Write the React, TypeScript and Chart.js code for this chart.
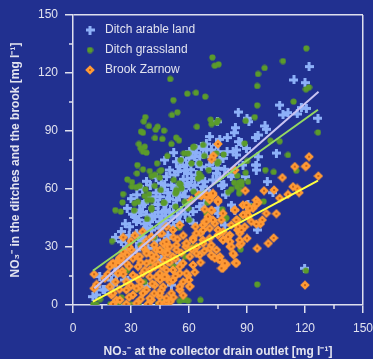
import React, { useEffect, useRef } from 'react';
import { Chart, registerables } from 'chart.js';

Chart.register(...registerables);

const BG = '#213090';
const TEXT = '#e2e3ef';
const AXIS = '#dfe0ee';
const FONT = "'Liberation Sans', Arial, Helvetica, sans-serif";

const axisMin = 0;
const axisMax = 150;
const majorStep = 30;
const minorTicks = [15, 45, 75, 105, 135];

const seriesLabels = ['Ditch arable land', 'Ditch grassland', 'Brook Zarnow'];
const xTitle = 'NO₃⁻ at the collector drain outlet [mg l⁻¹]';
const yTitle = 'NO₃⁻ in the ditches and the brook [mg l⁻¹]';

const arableLand: number[][] = [
  [122.1, 123.3], [114.3, 116.4], [120, 115], [118.1, 102.1], [120.7, 101.7], [116, 98.8], [106.9, 103.4], [108.6, 98.3], [111.2, 99.5], [126.7, 96.6],
  [85.5, 99.8], [90, 96.6], [91, 94.8], [84, 91.7], [83.3, 89.1], [99.3, 92.6], [100, 90.9], [94.3, 86.6], [95.7, 87.9], [74.7, 94.8],
  [70.7, 87.1], [75.9, 85.7], [79.8, 86.6], [79.7, 79.3], [84.5, 80.2], [85.7, 84.5], [87.1, 84], [89.7, 81], [95.7, 76.7], [94.5, 72.4],
  [94.8, 69.8], [105.2, 78.6], [100.5, 63.8], [103.4, 58.1], [95.3, 38.8], [119.8, 19], [75, 79.3], [69, 80.5], [63.8, 78.8], [65.5, 76.7],
  [71.6, 76.7], [74.1, 73.3], [78.4, 70.2], [81.9, 66.4], [76.9, 61.7], [90.5, 52.2],
  [52.1, 78.8], [61.3, 78.8], [63.5, 81.1], [71.6, 80.2], [74.2, 82.8], [82.8, 79.3], [84.5, 77.6], [77.6, 75.9], [47.4, 75], [53.5, 74.1],
  [58.7, 72.4], [66.4, 71.5], [70.7, 72.4], [75, 70.7], [50, 69.8], [54.3, 69], [48.3, 66.4], [52.6, 67.3], [61.3, 65.5], [63.8, 67.3],
  [68.1, 63.8], [72.4, 64.7], [47.4, 62.1], [56.9, 61.2], [62.1, 59.5], [66.4, 58.6], [70.7, 57.8], [87.9, 72.4], [89.3, 66.4], [82.5, 68.1],
  [78, 62.1], [75.9, 65.9], [83.7, 49.1], [89.7, 51.7], [47.4, 48.3], [50.9, 45.7], [53.5, 54.3], [58.7, 52.6], [62.1, 48.3], [65.5, 50.9],
  [60.4, 44], [55.2, 43.1],
  [94.9, 72.4], [79, 56.9], [81.9, 51.7], [75, 50], [67.3, 77.6], [75.9, 75], [70.7, 70.7], [74.2, 68.1], [67.3, 61.2], [75, 47.4], [68.1, 52.6],
  [45.7, 63], [46.6, 59.5], [42.3, 54.3], [48, 49.1], [37.1, 52.6], [34.5, 49.1], [38, 46.6], [42.3, 45.7], [31.9, 45.7], [32.8, 43.1],
  [44.9, 43.1], [39.7, 43.1], [48.6, 54],
  [30, 55], [33, 57], [36, 52], [40, 56], [43, 58], [28, 50], [31, 47], [35, 48], [27, 42], [25, 38], [22, 35], [29, 36], [38, 40],
  [41, 50], [44, 52], [46, 46], [36, 60], [40, 62], [38, 64], [43, 66], [45, 56], [49, 58], [51, 62], [55, 57], [57, 65], [59, 68],
  [56, 75], [60, 76], [64, 73], [58, 56], [60, 62],
  [60.3, 79.3], [62.9, 76.7], [66.4, 81.9], [69, 83.3], [56.6, 75], [57.8, 69.5], [55.2, 71.6],
  [29.3, 40.5], [32.8, 37.1], [36.2, 35.3], [40.6, 38.8], [44.9, 39.7], [34.5, 31.9], [27.6, 30.2], [38.8, 29.3], [24.2, 23.3], [25, 32.7],
  [43.1, 33.6], [49.1, 34.5], [21.6, 19.8], [22.5, 15.5], [28.4, 12.9], [20.7, 10.3], [16.4, 7.8], [38, 9.5],
  [46.6, 42.3], [49.1, 36.2], [62.1, 42.3], [78.5, 41.4], [55.2, 21.6], [50.9, 10.3], [45.7, 23.3],
  [32.8, 28.5], [19.9, 12.9], [12.1, 5.2], [10.3, 4.3], [15.5, 7.8], [26.7, 12.9], [35.4, 33.6], [12.1, 9.5], [13.8, 14.7],
  [34, 44], [37, 42], [41, 46], [44, 48], [47, 52], [50, 55], [52, 58], [54, 61], [57, 59], [59, 63], [61, 70], [63, 62], [65, 65],
  [50, 48], [52, 51], [56, 49], [58, 47], [54, 46], [48, 44], [46, 40], [52, 41],
];

const grassland: number[][] = [
  [120.7, 132.8], [72.1, 128.1], [73.3, 123.8], [75.3, 124.5], [108.6, 126.2], [99.1, 122.6], [95.7, 119.5], [95.3, 113.3], [120.5, 111.6], [122.1, 112.6],
  [50.3, 116.9], [63.6, 109.8], [59.1, 109.3], [68.4, 107.8], [51.9, 106], [114.1, 105.2], [95.3, 103.3], [54, 99.7], [51.2, 98.3], [37.4, 97.2],
  [94, 97.2], [36.6, 95], [39.3, 92.6], [43.8, 92.2], [42.8, 90.7], [71.2, 95.9], [75, 95.5], [74.3, 94.3], [71.7, 93.6], [64.1, 92.2],
  [89.3, 95.3], [35.2, 89.7], [36.2, 89.1], [47.1, 90.2], [42.4, 86.4], [46.2, 85.9], [53.4, 86.6], [54.8, 85.2],
  [34.1, 83.3], [35, 81.1], [37.1, 81.9], [36.2, 79.3], [38, 78.8], [48.8, 77.1], [43.5, 73.3], [33.3, 72.4], [36.2, 70.2], [39.7, 69.3],
  [42.3, 67.4], [40.7, 66.7], [44.9, 69.3], [44.9, 65.9], [33.1, 68.1], [28.1, 65], [30.5, 63.6], [30.5, 61.2], [32.8, 61], [34.5, 61.6],
  [42.3, 61.6], [37.5, 59.9], [45.4, 59.5], [25.9, 57.4], [39.3, 57.4], [37.1, 56.4], [40.7, 54.3], [38.5, 54.3], [25.6, 53.1], [33.6, 53.4],
  [31.9, 52.6], [47.1, 52.9], [40.6, 50.3], [40.6, 49.5], [21.9, 49.1], [24.7, 48.3], [31.6, 49], [38.3, 44.5],
  [59.5, 78.4], [62.6, 81.9], [65.5, 73.3], [67.9, 77.1], [70.2, 69.8], [74.1, 78.4], [77.9, 77.9], [74.7, 73.3], [82.8, 69.8], [85, 66.9],
  [86, 63.4], [87.2, 62.1], [86.2, 59.5], [89.3, 68.4], [90.5, 63.8], [88.8, 83.6], [99.5, 69.8], [103.8, 68.8], [102.1, 85], [106.9, 84.7],
  [111.2, 77.6], [115.5, 69.5], [98.6, 53.6], [92.6, 51.2], [120.5, 17.8], [95.3, 10.7], [126.7, 89.3], [83.4, 63.3], [84.8, 61.2], [80.3, 58.4],
  [77.2, 49.5], [79.3, 45], [86.7, 28.8], [65.9, 2.6], [55.2, 2.1], [58.1, 2.6], [59.5, 2.2], [52.1, 64.7], [53.6, 58.6], [55.7, 62.4],
  [62.4, 58.6], [65.2, 68.1], [59.5, 50], [69, 47.4], [57.8, 53.4],
  [50.9, 83.3], [62.1, 81.6], [67.3, 82.8], [57.4, 78.5], [55.7, 75], [61.3, 73.3], [75, 74.1], [90, 74.5], [45.7, 69.8], [66.4, 66.4],
  [64.7, 65.5], [54.8, 63], [87.1, 63.8], [56.1, 60.4], [53.5, 59.5], [53.1, 57.8], [81.9, 59.9], [85.9, 57.8], [46.9, 52.9], [69.5, 52.9],
  [53.1, 50.9], [78.5, 45.4], [85.9, 44],
  [20.2, 33.1], [11.2, 0.4], [56.9, 2.6],
  [10.5, 0.3], [12, 0.3], [19.3, 0.5], [23.5, 0.5], [27, 0.3], [30, 0.2], [34, 0.5], [38.5, 0.3], [44, 0.5], [46.5, 1.2],
  [14, 3], [25, 4], [33, 8], [37, 12], [45, 16], [52, 20], [58, 25], [62, 30], [48, 28], [40, 22], [28, 18], [35, 31], [42, 35], [55, 40], [60, 44],
];

const brookZarnow: number[][] = [
  [75, 83.3], [72.6, 77.2], [71.7, 75.3], [126.9, 66.7], [122.1, 76.7], [114.7, 71.6], [120.2, 71.6], [120.7, 72], [108.3, 65.9], [116, 60.3],
  [113.8, 61.2], [116.9, 58.1], [106.9, 55.3], [111.2, 57.2], [104, 59.5], [98.8, 59.1], [89.1, 59.1], [94.8, 54.3], [95.7, 53.1], [95, 52.2],
  [100, 47.4], [105.2, 47.2], [97.9, 44], [96.9, 41.9], [94.8, 41.9], [103.8, 34.7], [101, 31.9], [95.3, 29.3], [90, 34.5], [86.2, 37.1],
  [86.2, 31], [83.1, 25.9], [83.9, 21.9], [79.3, 21], [77.6, 19], [75, 24], [76, 25], [71.7, 25.3], [81.2, 30.2], [77.6, 33.6],
  [81.2, 32.8], [83.6, 49.1], [84.8, 44], [89.7, 47.4], [90.5, 45.7], [93.1, 50], [92.2, 43.1], [88.8, 40.5], [85.3, 38.8], [120, 10.3],
  [66.4, 56.4], [71, 56], [71.9, 48.8], [75, 54.3], [77.6, 47.4], [76.7, 44], [73.3, 42.2], [75, 38.8], [68.1, 49.5], [69.8, 45.7],
  [65, 56.9], [63.3, 40.5], [61.2, 54.3], [65.9, 37.1], [67.2, 33.6], [70.7, 29.3], [65.5, 25.9], [61.4, 28.8], [58.3, 30.2], [59.5, 15.3],
  [60.3, 9.8], [55.2, 7.8], [50.3, 1.7], [38.8, 0.5], [44.8, 0.9], [10.9, 15.9], [10.9, 8.6], [12.2, 10.7], [24.5, 24.1], [22.1, 21.6], [19.8, 21],
  [24.2, 24.5], [25, 22.4], [23.3, 20.7], [30.2, 28.5], [25.6, 17.6], [27.6, 12.1], [33.6, 25], [33.6, 19.8], [31, 15.5], [38, 27.6],
  [40.6, 25.9], [43.1, 28.5], [46.6, 31.9], [47.4, 26.7], [49.1, 22.4], [38, 21.6], [42.3, 19.8], [36.2, 16.4], [39.7, 14.6], [44.9, 16.4],
  [48.3, 14.6], [34.5, 9.5], [38, 7.8], [42.3, 10.3], [46.6, 9.5], [31, 5.2], [22.5, 2.6], [44.9, 4.3], [47.4, 0.9], [20.7, 0.5],
  [27.6, 0.5], [32.8, 0.9], [40.6, 2.6], [19, 9.5], [16.4, 13.8], [19.9, 5.2], [40.6, 35.3], [44.9, 37.1], [25.9, 27.6],
  [48.3, 40.5], [51.7, 38.8], [55.2, 41.4], [67.3, 41.4], [70.7, 39.7], [75, 36.2], [77.6, 33.6], [81.1, 36.2], [85.4, 38.8], [87.1, 31.9],
  [81.9, 30.2], [70.7, 34.5], [67.3, 31.9], [62.1, 34.5], [58.7, 31.9], [48.3, 30.2], [53.5, 31], [71.6, 25.9], [75.9, 23.3], [78.5, 20.7],
  [84.5, 21.9], [63.8, 26.7], [60.4, 25], [51.7, 25], [47.4, 23.3], [56.9, 21.6], [62.1, 20.7], [51.7, 18.1], [55.2, 16.4], [47.4, 14.6],
  [50, 12.1], [60.4, 9.5], [50.9, 6.1], [48.3, 1.7], [45.7, 7.8],
  [83.7, 69.8], [68.1, 56.9], [72.4, 56.9], [70.7, 54.3], [75, 53.4], [71.6, 49.1], [87.9, 51.7], [90.5, 46.6], [68.1, 43.1], [72.4, 44],
  [86.2, 33.6], [87.1, 38.8], [91.4, 50], [89.7, 51.7], [87.9, 46.6], [84.5, 44], [83.7, 49.1], [81.9, 41.4], [85.4, 40.5], [77.6, 37.9],
  [80.2, 35.3], [82.8, 26.7], [84.5, 21.6], [78.5, 21.6], [76.8, 19], [73.3, 24.2], [71.6, 31], [74.2, 28.5],
  [25, 24.2], [27.6, 21.6], [20.7, 21.6], [34.5, 25], [38, 26.7], [44.9, 28.5], [48.3, 32.7], [50, 30.2], [53.5, 28.5], [58.7, 31.9],
  [62.1, 33.6], [63.8, 37.1], [67.3, 38.8], [69, 43.1], [72.4, 57.8], [69, 56.9], [39.7, 18.1], [43.1, 14.6], [48.3, 18.1], [51.7, 12.9],
  [55.2, 19.8], [58.7, 16.4], [55.2, 9.5], [27.6, 7.8], [32.8, 8.6], [36.2, 6.1], [39.7, 3.5], [44.9, 6.1], [48.3, 3.5], [24.2, 2.6],
  [20.7, 6.1], [19, 19.8], [23.3, 16.4],
  [29, 20], [31, 24], [35, 22], [37, 18], [41, 23], [43, 25], [46, 20], [50, 22], [53, 24], [56, 27], [52, 35], [46, 37], [42, 31],
  [36, 30], [30, 33], [28, 26], [33, 14], [35, 12], [41, 11], [45, 13], [53, 15], [57, 12], [30, 10], [26, 16], [22, 12], [18, 16],
  [24, 8], [29, 4], [35, 3], [42, 6], [52, 4], [57, 5], [60, 13], [63, 17], [66, 22], [68, 28], [64, 30], [57, 36], [54, 34], [36, 38],
  [32, 36], [38, 33], [44, 21], [49, 27], [26, 35], [29, 30],
];

const arableFit: number[][] = [[11, 8.6], [127, 110.3]];
const grassFit: number[][] = [[10.3, 17.7], [126.7, 101]];
const brookFit: number[][] = [[10.3, 1.7], [126.7, 64.3]];

const COL_ARABLE = '#8db0f8';
const COL_GRASS = '#5b9b2b';
const COL_BROOK = '#ff9a35';
const COL_ARABLE_FIT = '#c9c4f2';
const COL_GRASS_FIT = '#94d862';
const COL_BROOK_FIT = '#ffff40';

function makeMarker(kind: string): HTMLCanvasElement {
  const c = document.createElement('canvas');
  if (kind === 'plus') {
    c.width = 9; c.height = 9;
    const g = c.getContext('2d')!;
    g.fillStyle = COL_ARABLE;
    g.fillRect(0, 3, 9, 3);
    g.fillRect(3, 0, 3, 9);
  } else if (kind === 'dot') {
    c.width = 7; c.height = 7;
    const g = c.getContext('2d')!;
    g.fillStyle = COL_GRASS;
    g.beginPath();
    g.arc(3.5, 3.5, 3.1, 0, Math.PI * 2);
    g.fill();
  } else {
    c.width = 10; c.height = 10;
    const g = c.getContext('2d')!;
    g.fillStyle = COL_BROOK;
    g.beginPath();
    g.moveTo(5, 0.2); g.lineTo(9.8, 5); g.lineTo(5, 9.8); g.lineTo(0.2, 5);
    g.closePath();
    g.fill();
    g.fillStyle = '#c8661a';
    g.fillRect(4, 4, 2, 2);
  }
  return c;
}

const toPts = (arr: number[][]) => arr.map(([x, y]) => ({ x, y }));

const framePlugin = {
  id: 'frameAndMinorTicks',
  afterLayout(chart: any) {
    const l = chart.legend;
    if (l) {
      const dy = chart.chartArea.top + 1 - l.top;
      l.top += dy;
      l.bottom += dy;
    }
  },
  afterDraw(chart: any) {
    const { ctx, chartArea, scales } = chart;
    const xs = scales.x;
    const ys = scales.y;
    ctx.save();
    ctx.strokeStyle = AXIS;
    ctx.lineWidth = 1.5;
    ctx.beginPath();
    minorTicks.forEach((v) => {
      const px = Math.round(xs.getPixelForValue(v));
      ctx.moveTo(px, chartArea.bottom);
      ctx.lineTo(px, chartArea.bottom + 4);
      const py = Math.round(ys.getPixelForValue(v));
      ctx.moveTo(chartArea.left, py);
      ctx.lineTo(chartArea.left - 4, py);
    });
    ctx.stroke();
    ctx.restore();
  },
};

export default function App() {
  const ref = useRef<HTMLCanvasElement | null>(null);

  useEffect(() => {
    if (!ref.current) return;
    Chart.defaults.font.family = FONT;
    const plus = makeMarker('plus');
    const dot = makeMarker('dot');
    const diamond = makeMarker('diamond');

    const edgeColor = (ctx: any) => (ctx.tick && ctx.tick.value === axisMax ? AXIS : 'rgba(0,0,0,0)');

    const chart = new Chart(ref.current, {
      type: 'scatter',
      data: {
        datasets: [
          { label: seriesLabels[0], data: toPts(arableLand), pointStyle: plus as any, pointRadius: 4.5, order: 3, backgroundColor: COL_ARABLE, borderColor: COL_ARABLE },
          { label: seriesLabels[1], data: toPts(grassland), pointStyle: dot as any, pointRadius: 3.5, order: 2, backgroundColor: COL_GRASS, borderColor: COL_GRASS },
          { label: seriesLabels[2], data: toPts(brookZarnow), pointStyle: diamond as any, pointRadius: 5, order: 1, backgroundColor: COL_BROOK, borderColor: COL_BROOK },
          { label: 'fitA', data: toPts(arableFit), showLine: true, pointRadius: 0, borderColor: COL_ARABLE_FIT, borderWidth: 2, order: 0 },
          { label: 'fitG', data: toPts(grassFit), showLine: true, pointRadius: 0, borderColor: COL_GRASS_FIT, borderWidth: 2, order: 0 },
          { label: 'fitB', data: toPts(brookFit), showLine: true, pointRadius: 0, borderColor: COL_BROOK_FIT, borderWidth: 2, order: 0 },
        ] as any,
      },
      options: {
        responsive: false,
        animation: false,
        devicePixelRatio: 1,
        events: [],
        layout: { padding: { top: 15, right: 10, left: 0, bottom: 0 } },
        plugins: {
          tooltip: { enabled: false },
          legend: {
            position: 'chartArea' as any,
            align: 'start',
            labels: {
              usePointStyle: true,
              pointStyleWidth: 18,
              boxHeight: 6,
              padding: 8,
              color: TEXT,
              font: { size: 12, family: FONT },
              filter: (item: any) => item.datasetIndex < 3,
              sort: (a: any, b: any) => a.datasetIndex - b.datasetIndex,
            },
          },
        },
        scales: {
          x: {
            type: 'linear',
            min: axisMin,
            max: axisMax,
            ticks: { stepSize: majorStep, color: TEXT, font: { size: 12 }, padding: 8, maxRotation: 0 },
            grid: { color: edgeColor, tickColor: AXIS, tickLength: 8, lineWidth: 1.5 },
            border: { color: AXIS, width: 1.5 },
            title: { display: true, text: xTitle, color: TEXT, font: { size: 12, weight: 'bold' }, padding: { top: 0, bottom: 0 } },
            afterFit: (s: any) => { s.height = 54; s.paddingLeft = 0; s.paddingRight = 0; },
          },
          y: {
            type: 'linear',
            min: axisMin,
            max: axisMax,
            ticks: { stepSize: majorStep, color: TEXT, font: { size: 12 }, padding: 7 },
            grid: { color: edgeColor, tickColor: AXIS, tickLength: 8, lineWidth: 1.5 },
            border: { color: AXIS, width: 1.5 },
            title: { display: true, text: yTitle, color: TEXT, font: { size: 12, weight: 'bold' }, padding: { top: 8, bottom: 0 } },
            afterFit: (s: any) => { s.width = 73; s.paddingTop = 0; s.paddingBottom = 0; },
          },
        },
      } as any,
      plugins: [framePlugin],
    });
    return () => chart.destroy();
  }, []);

  return (
    <div style={{ position: 'absolute', left: 0, top: 0, width: 373, height: 359, background: BG }}>
      <canvas ref={ref} width={373} height={359} style={{ display: 'block' }} />
    </div>
  );
}
